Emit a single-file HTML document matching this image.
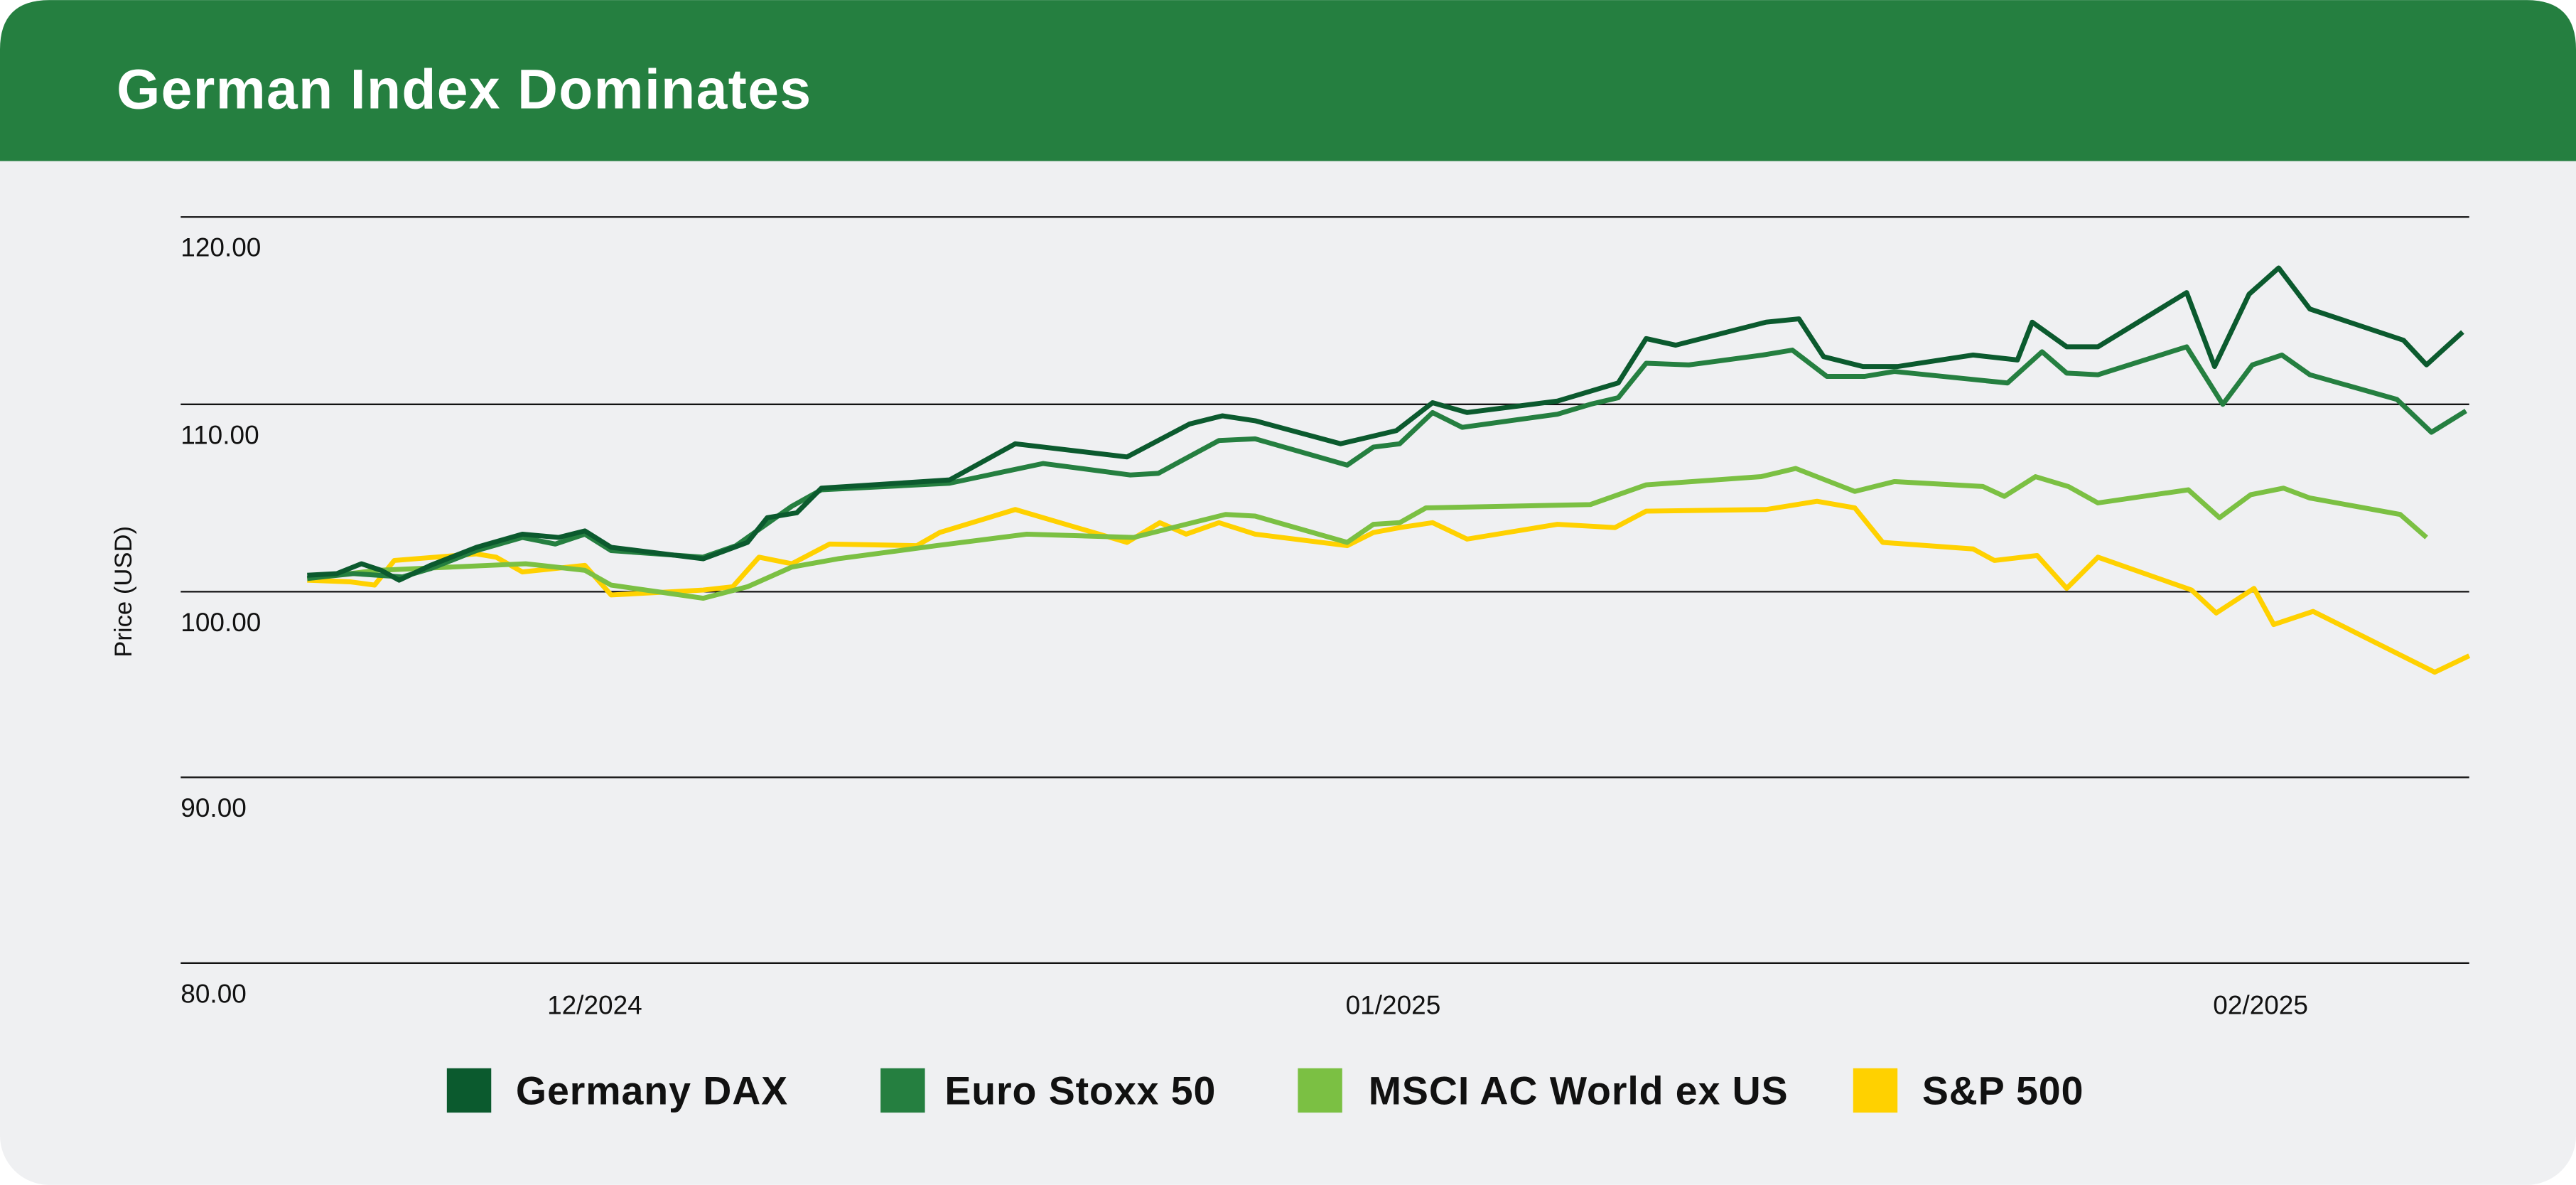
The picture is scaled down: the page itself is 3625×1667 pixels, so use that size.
<!DOCTYPE html>
<html><head><meta charset="utf-8"><style>
html,body{margin:0;padding:0;background:#fff;}
svg{display:block;}
text{font-family:"Liberation Sans",sans-serif;}
</style></head><body>
<svg width="3625" height="1667" viewBox="0 0 1568 721" xmlns="http://www.w3.org/2000/svg">
<rect x="0" y="0" width="1568" height="721" rx="30" fill="#EFF0F2"/>
<path d="M0,98 L0,30 Q0,0 30,0 L1538,0 Q1568,0 1568,30 L1568,98 Z" fill="#257F40"/>
<text x="71" y="66" font-size="34" font-weight="bold" fill="#fff" letter-spacing="0.6">German Index Dominates</text>
<g stroke="#111" stroke-width="1">
<line x1="110" y1="132" x2="1503" y2="132"/>
<line x1="110" y1="246" x2="1503" y2="246"/>
<line x1="110" y1="360" x2="1503" y2="360"/>
<line x1="110" y1="473" x2="1503" y2="473"/>
<line x1="110" y1="586" x2="1503" y2="586"/>
</g>
<g font-size="16" fill="#111">
<text x="110" y="156">120.00</text>
<text x="110" y="270">110.00</text>
<text x="110" y="384">100.00</text>
<text x="110" y="497">90.00</text>
<text x="110" y="610">80.00</text>
<text x="362" y="617" text-anchor="middle">12/2024</text>
<text x="848" y="617" text-anchor="middle">01/2025</text>
<text x="1376" y="617" text-anchor="middle">02/2025</text>
<text transform="translate(80,360) rotate(-90)" text-anchor="middle" font-size="15">Price (USD)</text>
</g>
<g fill="none" stroke-width="3" stroke-linejoin="round">
<polyline stroke="#FFD100" points="187,353 213,354 228,356 240,341 290,337 302,339 318,348 356,344 372,362 428,359 446,357 462,339 482,343 505,331 558,332 572,324 618,310 686,330 706,318 722,325 742,318 764,325 820,332 836,324 852,321 872,318 893,328 948,319 983,321 1002,311 1075,310 1106,305 1129,309 1146,330 1201,334 1214,341 1240,338 1258,358 1277,339 1334,359 1349,373 1372,358 1384,380 1408,372 1482,409 1503,399"/>
<polyline stroke="#7BC043" points="187,352 230,347 320,343 356,347 372,356 428,364 455,357 482,345 510,340 570,332 625,325 690,327 746,313 764,314 820,330 836,319 852,318 868,309 968,307 1002,295 1072,290 1093,285 1129,299 1153,293 1207,296 1220,302 1239,290 1259,296 1277,306 1332,298 1351,315 1370,301 1390,297 1406,303 1461,313 1477,327"/>
<polyline stroke="#257F40" points="187,352 215,349 245,351 262,346 290,335 318,327 338,331 356,325 372,335 428,339 448,332 465,320 482,308 500,298 578,294 635,282 688,289 705,288 742,268 764,267 820,283 836,272 852,270 872,251 890,260 948,252 968,246 985,242 1002,221 1028,222 1073,216 1091,213 1112,229 1135,229 1153,226 1222,233 1243,214 1258,227 1277,228 1331,211 1353,246 1371,222 1389,216 1406,228 1459,243 1480,263 1501,250"/>
<polyline stroke="#0B5A2E" points="187,350 205,349 220,343 232,347 243,353 262,344 290,333 318,325 340,327 356,323 372,333 428,340 455,330 467,315 485,312 500,297 578,292 618,270 686,278 724,258 744,253 764,256 816,270 850,262 872,245 893,251 948,244 985,233 1002,206 1020,210 1075,196 1095,194 1110,217 1134,223 1155,223 1201,216 1228,219 1237,196 1258,211 1277,211 1331,178 1348,223 1369,179 1387,163 1406,188 1463,207 1477,222 1499,202"/>
</g>
<rect x="272" y="650" width="27" height="27" fill="#0B5A2E"/>
<rect x="536" y="650" width="27" height="27" fill="#257F40"/>
<rect x="790" y="650" width="27" height="27" fill="#7BC043"/>
<rect x="1128" y="650" width="27" height="27" fill="#FFD100"/>
<g font-size="24" font-weight="bold" fill="#111" letter-spacing="0.4">
<text x="314" y="672">Germany DAX</text>
<text x="575" y="672">Euro Stoxx 50</text>
<text x="833" y="672">MSCI AC World ex US</text>
<text x="1170" y="672">S&amp;P 500</text>
</g>
</svg>
</body></html>
